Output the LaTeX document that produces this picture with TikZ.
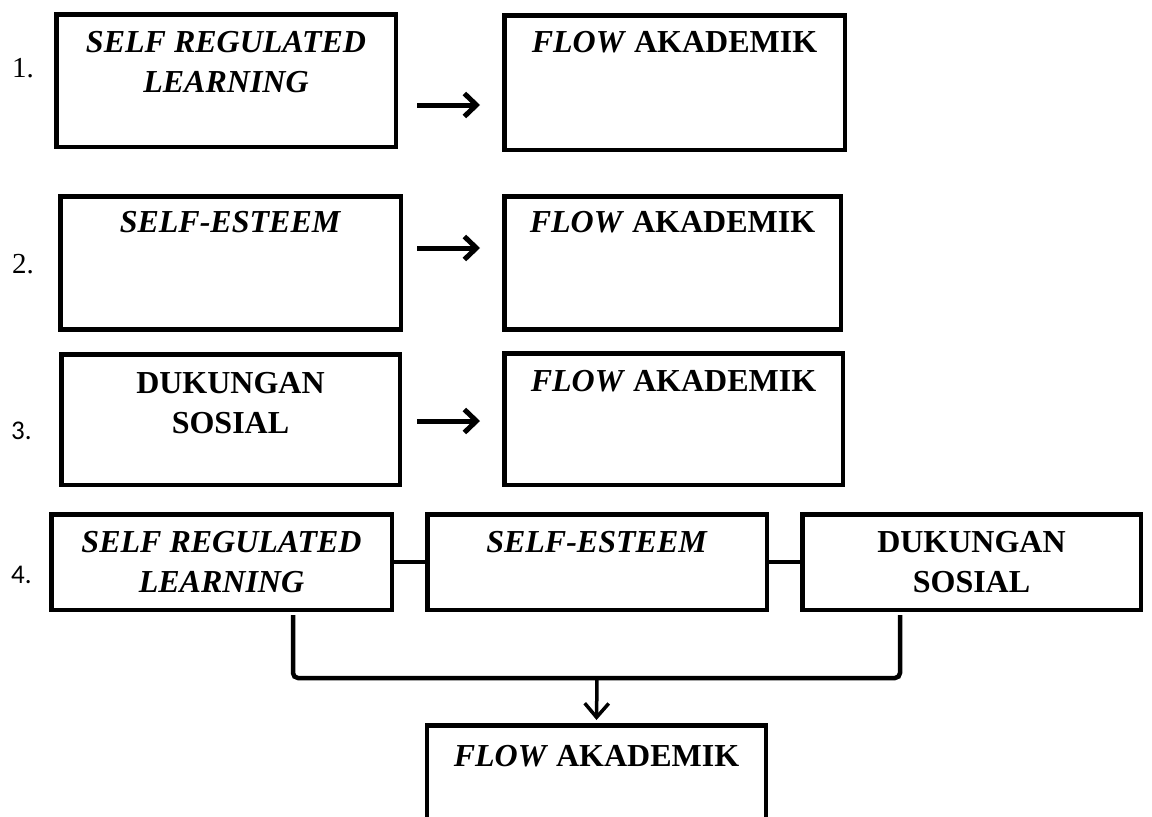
\documentclass[tikz,border=0pt]{standalone}
\usepackage{fontspec}
\setmainfont{Liberation Serif}
\newfontfamily\numfont{Carlito}
\usetikzlibrary{arrows.meta,positioning}
\tikzset{
    %Define standard arrow tip
    >={Straight Barb[length=12pt,width=23pt]},
    %Define style for boxes
    varbox/.style={
           rectangle,
           draw=black, line width=4.5pt,
           fill=white,
           minimum width=340pt,
           minimum height=133pt,
           inner sep=0pt},
    %Define style for box texts
    boxtext/.style={
           inner sep=0pt,
           align=center,
           font=\fontsize{32}{40}\selectfont\bfseries},
    numtext/.style={
           inner sep=0pt,
           anchor=base west,
           font=\fontsize{29}{34}\selectfont},
    % Define arrow style
    pil/.style={
           ->,
           line width=5pt},
    conn/.style={
           line width=4.5pt}
}

\begin{document}
\begin{tikzpicture}[x=1pt,y=-1pt]
\clip (0,0) rectangle (1152,817);
\fill[white] (0,0) rectangle (1152,817);
% 1.
\node[numtext] (n1) at (12,77) {1.};
\node[varbox, minimum width=339.5pt, minimum height=132.5pt] (srl1) at (226,80.5) {};
\node[boxtext, below=19pt of srl1.north] (srl1t) {\textit{SELF REGULATED}\\\textit{LEARNING}};
\node[varbox, minimum width=340.5pt, minimum height=134.5pt] (flow1) at (674.5,82.5) {};
\node[boxtext, below=18pt of flow1.north] (flow1t) {\textit{FLOW} AKADEMIK};
\draw[pil, shorten <=19pt, shorten >=22pt] ([yshift=-24.5pt]srl1.east) -- ([yshift=-24.5pt]srl1.east -| flow1.west);
% 2.
\node[numtext] (n2) at (12,273) {2.};
\node[varbox, minimum width=340.5pt] (se2) at (230.5,263) {};
\node[boxtext, below=17pt of se2.north] (se2t) {\textit{SELF-ESTEEM}};
\node[varbox, minimum width=336.5pt] (flow2) at (672.5,263) {};
\node[boxtext, below=17pt of flow2.north] (flow2t) {\textit{FLOW} AKADEMIK};
\draw[pil, shorten <=14pt, shorten >=22pt] ([yshift=15pt]se2.east) -- ([yshift=15pt]se2.east -| flow2.west);
% 3.
\node[numtext, font=\fontsize{27}{32}\selectfont\numfont] (n3) at (11,439) {3.};
\node[varbox, minimum width=338.5pt, minimum height=130.5pt] (ds3) at (230.5,419.5) {};
\node[boxtext, below=20pt of ds3.north] (ds3t) {DUKUNGAN\\SOSIAL};
\node[varbox, minimum width=338.5pt, minimum height=131.5pt] (flow3) at (673.5,419) {};
\node[boxtext, below=19pt of flow3.north] (flow3t) {\textit{FLOW} AKADEMIK};
\draw[pil, shorten <=15pt, shorten >=22pt] ([yshift=-1.5pt]ds3.east) -- ([yshift=-1.5pt]ds3.east -| flow3.west);
% 4.
\node[numtext, font=\fontsize{27}{32}\selectfont\numfont] (n4) at (11,583) {4.};
\node[varbox, minimum width=340.5pt, minimum height=95.5pt] (srl4) at (221.5,562) {};
\node[boxtext, below=19pt of srl4.north] (srl4t) {\textit{SELF REGULATED}\\\textit{LEARNING}};
\node[varbox, minimum width=339.5pt, minimum height=95.5pt] (se4) at (597,562) {};
\node[boxtext, below=19pt of se4.north] (se4t) {\textit{SELF-ESTEEM}};
\node[varbox, minimum width=338.5pt, minimum height=95.5pt] (ds4) at (971.5,562) {};
\node[boxtext, below=19pt of ds4.north] (ds4t) {DUKUNGAN\\SOSIAL};
\node[varbox, minimum width=339pt] (flow4) at (596.5,791.75) {};
\node[boxtext, below=22pt of flow4.north] (flow4t) {\textit{FLOW} AKADEMIK};
\draw[conn] (srl4.east) -- (se4.west);
\draw[conn] (se4.east) -- (ds4.west);
\draw[conn, rounded corners=5pt] ([xshift=71.5pt,yshift=-3pt]srl4.south) -- ++(0,63) -| ([xshift=-71.5pt,yshift=-3pt]ds4.south);
\coordinate (join) at ([yshift=-66pt]se4.south);
\draw[conn, line width=3.5pt, -{Straight Barb[length=14pt,width=24pt]}, shorten >=3pt] (join) -- (flow4.north);
\end{tikzpicture}
\end{document}
